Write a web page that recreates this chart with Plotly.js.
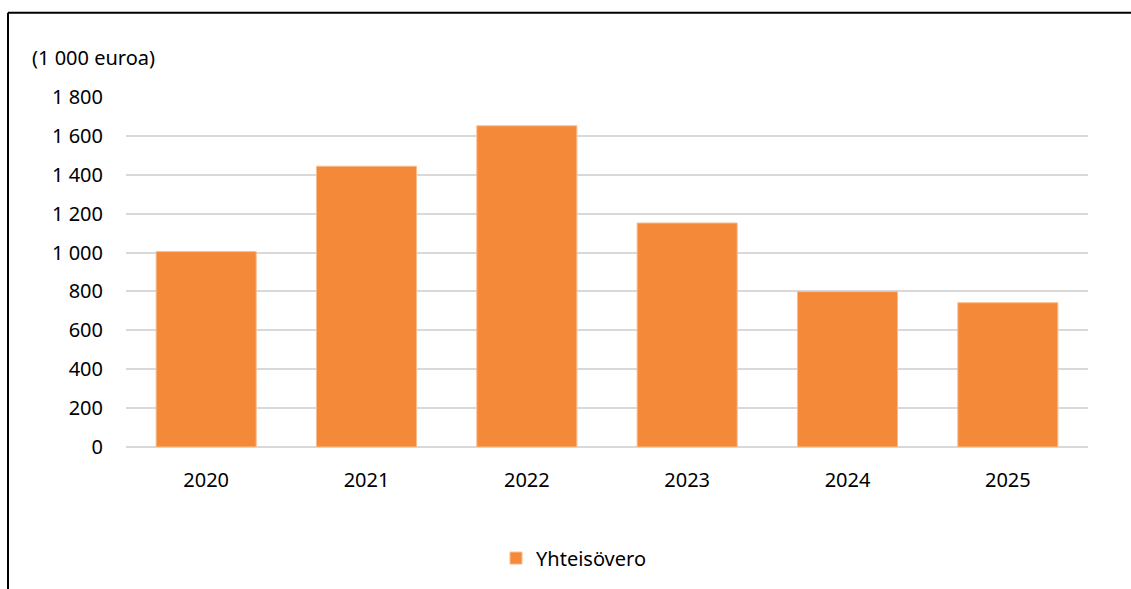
<!DOCTYPE html>
<html>
<head>
<meta charset="utf-8">
<script src="https://cdn.plot.ly/plotly-3.0.1.min.js"></script>
<style>
  html, body { margin: 0; padding: 0; background: #fff; }
  #chart { width: 1131px; height: 589px; }
</style>
</head>
<body>
<div id="chart"></div>
<script>
const years = ["2020", "2021", "2022", "2023", "2024", "2025"];
const yhteisovero = [1005, 1444, 1652, 1152, 799, 742];
const seriesName = "Yhteisövero";
const unitLabel = "(1 000 euroa)";
const yTicks = [0, 200, 400, 600, 800, 1000, 1200, 1400, 1600, 1800];

const W = 1131, H = 589;
const M = { l: 126, r: 43, t: 97, b: 139 };
const pw = W - M.l - M.r, ph = H - M.t - M.b;
const px = x => (x - M.l) / pw;
const py = y => (H - M.b - y) / ph;

const font = { family: "Noto Sans, Open Sans, sans-serif", size: 20, color: "#000000" };

const trace = {
  type: "bar",
  x: years,
  y: yhteisovero,
  name: seriesName,
  marker: { color: "#F5893A", line: { color: "#F9BC8E", width: 1 } },
  hoverinfo: "x+y"
};

const layout = {
  width: W, height: H,
  margin: M,
  paper_bgcolor: "#ffffff",
  plot_bgcolor: "#ffffff",
  font: font,
  separators: ", ",
  bargap: 0.376,
  showlegend: true,
  legend: {
    orientation: "h",
    x: px(574), xanchor: "center",
    y: py(562), yanchor: "middle",
    font: font,
    bgcolor: "rgba(0,0,0,0)"
  },
  xaxis: {
    type: "category",
    showgrid: false,
    zeroline: false,
    showline: false,
    ticks: "",
    ticklabelstandoff: 19,
    tickfont: font
  },
  yaxis: {
    range: [0, 1800],
    tickvals: yTicks,
    tickformat: ",d",
    showgrid: true,
    gridcolor: "#D9D9D9",
    gridwidth: 2,
    zeroline: true,
    zerolinecolor: "#D9D9D9",
    zerolinewidth: 2,
    showline: false,
    ticks: "",
    ticklabelstandoff: 22,
    tickfont: font,
    fixedrange: true
  },
  annotations: [{
    text: unitLabel,
    xref: "paper", yref: "paper",
    x: px(30), xanchor: "left",
    y: py(57), yanchor: "middle",
    showarrow: false,
    font: font
  }],
  shapes: [
    { type: "line", xref: "paper", yref: "paper",
      x0: px(8), x1: px(1140), y0: py(12), y1: py(12),
      line: { color: "#000000", width: 2 } },
    { type: "line", xref: "paper", yref: "paper",
      x0: px(8), x1: px(8), y0: py(12), y1: py(600),
      line: { color: "#000000", width: 2 } }
  ]
};

Plotly.newPlot("chart", [trace], layout, { displayModeBar: false, staticPlot: true });
</script>
</body>
</html>
